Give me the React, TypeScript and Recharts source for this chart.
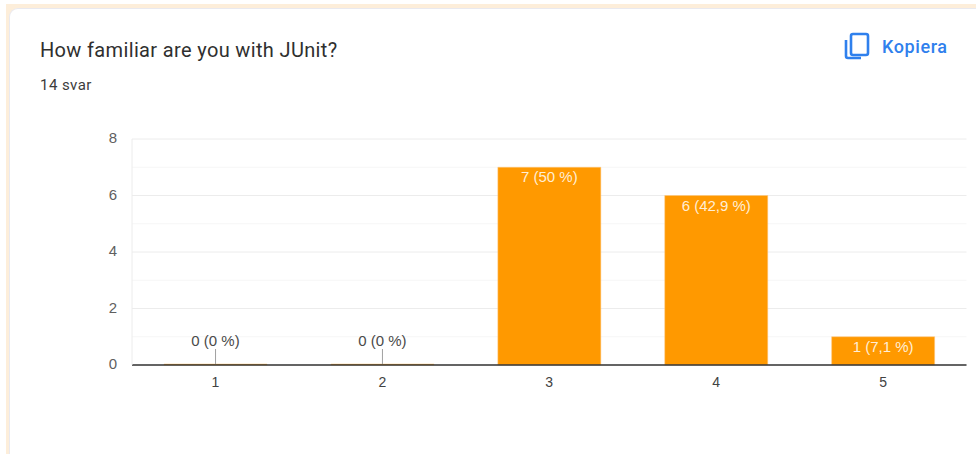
import React from "react";
import { BarChart, Bar, XAxis, YAxis, CartesianGrid, LabelList } from "recharts";

const categories = ["1", "2", "3", "4", "5"];
const counts = [0, 0, 7, 6, 1];
const valueLabels = ["0 (0 %)", "0 (0 %)", "7 (50 %)", "6 (42,9 %)", "1 (7,1 %)"];
const majorTicks = [0, 2, 4, 6, 8];
const minorTicks = [1, 3, 5, 7];

const chartData = categories.map((name, i) => ({
  name,
  count: counts[i],
  label: valueLabels[i],
}));

const FONT = "'Liberation Sans', Arial, sans-serif";
const ROBOTO = "Roboto, sans-serif";

// Zero bars get a leader line with the label above it, the rest sit inside the bar
const BarValueLabel = (props: any) => {
  const { x, y, width, index } = props;
  const cx = x + width / 2;
  const zero = counts[index] === 0;
  return (
    <g>
      {zero && <line x1={cx} x2={cx} y1={y - 15} y2={y} stroke="#a0a0a0" strokeWidth={1} />}
      <text
        x={cx}
        y={zero ? y - 18 : y + 15}
        textAnchor="middle"
        fontFamily={FONT}
        fontSize={15}
        fill={zero ? "#4a4a4a" : "#ffeed6"}
      >
        {valueLabels[index]}
      </text>
    </g>
  );
};

const App = () => {
  return (
    <div style={{ position: "fixed", left: 0, top: 0, width: 976, height: 454, background: "#ffffff", overflow: "hidden" }}>
      <div style={{ position: "absolute", left: 6, top: 4, width: 970, height: 450, background: "#fdeeda" }} />
      <div
        style={{
          position: "absolute",
          left: 9,
          top: 8,
          width: 967,
          height: 446,
          background: "#ffffff",
          borderTopLeftRadius: 9,
          borderTop: "1.5px solid #e9e9ef",
          borderLeft: "1.5px solid #e9e9ef",
          boxSizing: "border-box",
        }}
      />
      <div style={{ position: "absolute", left: 40, top: 38, fontFamily: ROBOTO, fontSize: 20, letterSpacing: 0.35, color: "#2f2f2f", whiteSpace: "nowrap" }}>
        How familiar are you with JUnit?
      </div>
      <div style={{ position: "absolute", left: 40, top: 76, fontFamily: ROBOTO, fontSize: 15, letterSpacing: 0.45, color: "#3c3c3c", whiteSpace: "nowrap" }}>
        14 svar
      </div>
      <svg style={{ position: "absolute", left: 841, top: 30 }} width={30} height={32} viewBox="0 0 30 32">
        <rect x={10} y={4} width={17} height={21} rx={2} fill="none" stroke="#2f80ed" strokeWidth={2.6} />
        <path d="M5 10 V26 a2 2 0 0 0 2 2 H20" fill="none" stroke="#2f80ed" strokeWidth={2.6} />
      </svg>
      <div style={{ position: "absolute", left: 882, top: 36, fontFamily: ROBOTO, fontWeight: 500, fontSize: 18, letterSpacing: 0.6, color: "#2f80ed", whiteSpace: "nowrap" }}>
        Kopiera
      </div>
      <div style={{ position: "absolute", left: 0, top: 0 }}>
        <BarChart
          width={976}
          height={454}
          data={chartData}
          barCategoryGap="19.2%"
          margin={{ top: 139, right: 9.5, bottom: 59, left: 92 }}
        >
          <CartesianGrid vertical={false} horizontalValues={minorTicks} stroke="#f6f6f6" />
          <CartesianGrid vertical={false} horizontalValues={majorTicks} stroke="#ececec" />
          <XAxis
            dataKey="name"
            height={30}
            tickLine={false}
            tickSize={0}
            tickMargin={12}
            axisLine={{ stroke: "#333333", strokeWidth: 1.5 }}
            tick={{ fontFamily: FONT, fontSize: 14, fill: "#424242" }}
          />
          <YAxis
            width={40}
            domain={[0, 8]}
            ticks={majorTicks}
            tickLine={false}
            tickSize={0}
            tickMargin={15}
            axisLine={{ stroke: "#ececec" }}
            tick={{ fontFamily: FONT, fontSize: 15, fill: "#5f5f5f", dy: -1 }}
          />
          <YAxis
            yAxisId="edge"
            orientation="right"
            width={0}
            domain={[0, 8]}
            ticks={majorTicks}
            tick={false}
            tickLine={false}
            axisLine={{ stroke: "#ececec" }}
          />
          <Bar dataKey="count" fill="#ff9900" stroke="#ffc980" strokeWidth={0.5} minPointSize={1} isAnimationActive={false}>
            <LabelList dataKey="label" content={<BarValueLabel />} />
          </Bar>
        </BarChart>
      </div>
    </div>
  );
};

export default App;
